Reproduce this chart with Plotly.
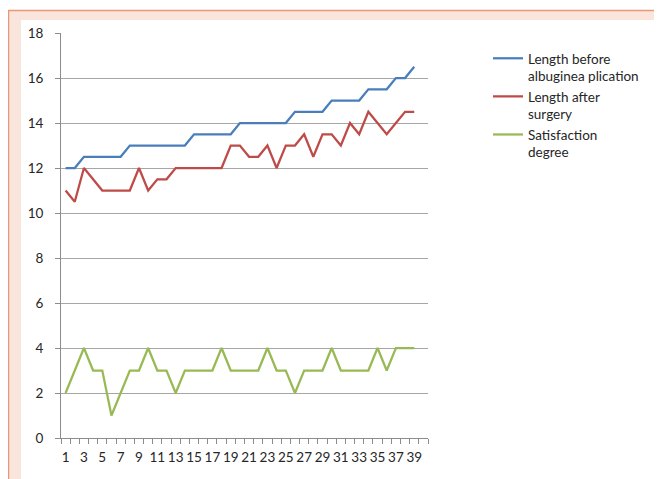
import plotly.graph_objects as go

patients = list(range(1, 40))
length_before = [12, 12, 12.5, 12.5, 12.5, 12.5, 12.5, 13, 13, 13,
                 13, 13, 13, 13, 13.5, 13.5, 13.5, 13.5, 13.5, 14,
                 14, 14, 14, 14, 14, 14.5, 14.5, 14.5, 14.5, 15,
                 15, 15, 15, 15.5, 15.5, 15.5, 16, 16, 16.5]
length_after = [11, 10.5, 12, 11.5, 11, 11, 11, 11, 12, 11,
                11.5, 11.5, 12, 12, 12, 12, 12, 12, 13, 13,
                12.5, 12.5, 13, 12, 13, 13, 13.5, 12.5, 13.5, 13.5,
                13, 14, 13.5, 14.5, 14, 13.5, 14, 14.5, 14.5]
satisfaction = [2, 3, 4, 3, 3, 1, 2, 3, 3, 4,
                3, 3, 2, 3, 3, 3, 3, 4, 3, 3,
                3, 3, 4, 3, 3, 2, 3, 3, 3, 4,
                3, 3, 3, 3, 4, 3, 4, 4, 4]
series_names = ["Length before<br>albuginea plication",
                "Length after<br>surgery",
                "Satisfaction<br>degree"]
x_tick_labels = [str(v) for v in range(1, 40, 2)]
y_ticks = list(range(0, 19, 2))

colors = ["#4A7EBB", "#BE4B48", "#98B954"]
FONT = "Lato"

fig = go.Figure()
for name, vals, col in zip(series_names, [length_before, length_after, satisfaction], colors):
    fig.add_trace(go.Scatter(x=patients, y=vals, name=name, mode="lines",
                             line=dict(color=col, width=2.25)))

# The page body has an 8px margin, so the figure is placed at (8, 8).
OFF = 8
FW, FH = 662 - OFF, 479 - OFF
# plot area in window px: x 61..428, y 33..438
L, R, T, B = 61 - OFF, 662 - 428, 33 - OFF, 479 - 438
W, H = FW - L - R, FH - T - B

def px(x):
    return (x - OFF - L) / W

def py(y):
    return (FH - B - (y - OFF)) / H

shapes = [
    dict(type="rect", xref="paper", yref="paper", layer="below",
         x0=px(8.5), x1=px(700), y0=py(520), y1=py(10.5),
         line=dict(color="#E9967A", width=1.5), fillcolor="#F9E5DC"),
    dict(type="rect", xref="paper", yref="paper", layer="below",
         x0=px(21), x1=px(658), y0=py(520), y1=py(20),
         line=dict(width=0), fillcolor="#FFFFFF"),
]

fig.update_layout(
    width=FW, height=FH,
    margin=dict(l=L, r=R, t=T, b=B, pad=0),
    paper_bgcolor="#FFFFFF",
    plot_bgcolor="rgba(0,0,0,0)",
    font=dict(family=FONT, size=13, color="#262626"),
    shapes=shapes,
    showlegend=True,
    legend=dict(x=px(488), y=py(43), xanchor="left", yanchor="top",
                bgcolor="rgba(0,0,0,0)", valign="top",
                font=dict(family=FONT, size=13.5, color="#262626"),
                tracegroupgap=0, itemwidth=30),
)
fig.update_xaxes(
    range=[0.5, 40.5], tickmode="array", tickvals=list(range(1, 40, 2)),
    ticktext=x_tick_labels, ticks="", showgrid=False, zeroline=False,
    showline=True, linecolor="#8C8C8C", linewidth=1,
    minor=dict(ticks="outside", tick0=0.5, dtick=1, ticklen=5,
               tickcolor="#8C8C8C", showgrid=False),
    tickfont=dict(family=FONT, size=13.5, color="#262626"),
    ticklabelstandoff=7, fixedrange=True,
)
fig.update_yaxes(
    range=[0, 18], tickmode="array", tickvals=y_ticks,
    ticks="outside", ticklen=5, tickcolor="#8C8C8C",
    showgrid=True, gridcolor="#A6A6A6", gridwidth=1, zeroline=False,
    showline=True, linecolor="#8C8C8C", linewidth=1,
    tickfont=dict(family=FONT, size=13.5, color="#262626"),
    ticklabelstandoff=9, fixedrange=True,
)

fig.write_html("out.html")
